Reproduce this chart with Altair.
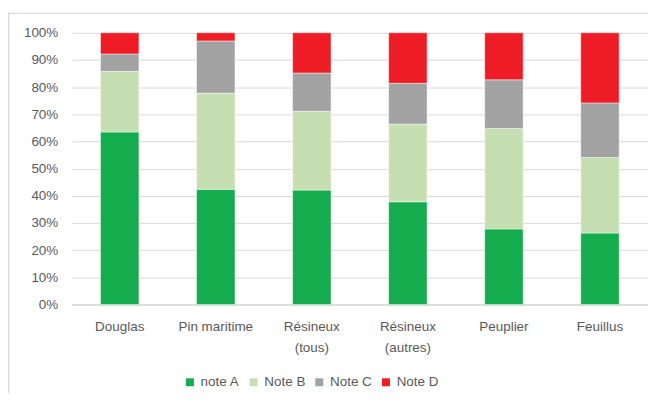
import altair as alt
import pandas as pd

categories = ["Douglas", "Pin maritime", "Résineux\n(tous)", "Résineux\n(autres)", "Peuplier", "Feuillus"]
series = ["note A", "Note B", "Note C", "Note D"]
note_a = [0.635, 0.424, 0.421, 0.378, 0.278, 0.263]
note_b = [0.223, 0.354, 0.290, 0.286, 0.370, 0.278]
note_c = [0.064, 0.192, 0.141, 0.150, 0.179, 0.201]
note_d = [0.078, 0.030, 0.148, 0.186, 0.173, 0.258]
colors = ["#14AC4C", "#C5DFB2", "#A2A2A2", "#EE1C24"]
y_ticks = [i / 10 for i in range(11)]

rows = []
for vals, s_idx in zip([note_a, note_b, note_c, note_d], range(4)):
    for c, v in zip(categories, vals):
        rows.append({"cat": c, "serie": series[s_idx], "idx": s_idx, "val": v})
df = pd.DataFrame(rows)

FONT = "Liberation Sans"
TXT = "#595959"

bars = alt.Chart(df).mark_bar(stroke="white", strokeWidth=1, strokeOpacity=0.45).encode(
    x=alt.X("cat:N", sort=categories, title=None,
            scale=alt.Scale(paddingInner=0.6, paddingOuter=0.3),
            axis=alt.Axis(labelAngle=0, labelPadding=15, labelLineHeight=21,
                          labelExpr="split(datum.label, '\\n')", ticks=False,
                          domainColor="#D9D9D9", domainWidth=1.5)),
    y=alt.Y("val:Q", stack="zero", title=None,
            scale=alt.Scale(domain=[0, 1], nice=False),
            axis=alt.Axis(values=y_ticks, format=".0%", ticks=False, domain=False,
                          labelPadding=14, gridColor="#D9D9D9")),
    color=alt.Color("serie:N", sort=series,
                    scale=alt.Scale(domain=series, range=colors),
                    legend=alt.Legend(title=None, orient="none", legendX=112, legendY=344,
                                      direction="horizontal", symbolType="square",
                                      symbolSize=64, symbolStrokeWidth=0, labelOffset=4,
                                      columnPadding=7, gridAlign="each", padding=0)),
    order=alt.Order("idx:Q", sort="ascending"),
)

border = alt.Chart(pd.DataFrame({"a": [0]})).mark_rect(
    fill=None, stroke="#D9D9D9", strokeWidth=1.5
).encode(x=alt.value(-63.5), x2=alt.value(800), y=alt.value(-19.5), y2=alt.value(800))

chart = alt.layer(border, bars).properties(
    width=579, height=273,
    autosize=alt.AutoSizeParams(type="none"),
    padding={"left": 64, "top": 24, "right": 0, "bottom": 88},
).configure_view(stroke=None).configure_axis(
    labelFont=FONT, labelFontSize=13.5, labelColor=TXT
).configure_legend(
    labelFont=FONT, labelFontSize=13.5, labelColor=TXT
)

chart.save("out.html", embed_options={"renderer": "svg", "actions": False})
